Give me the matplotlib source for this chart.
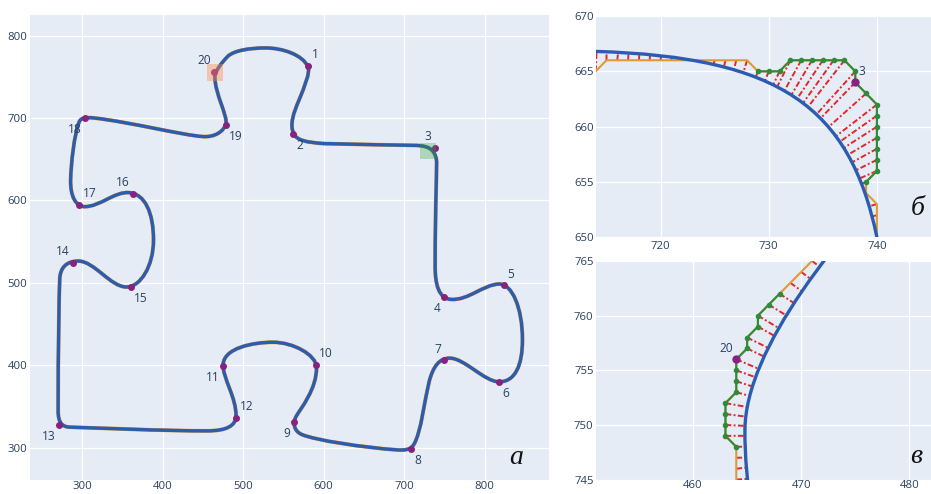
import numpy as np
import matplotlib.pyplot as plt
from matplotlib.path import Path
from matplotlib.patches import PathPatch, Rectangle

plt.rcParams['font.family'] = ['Open Sans', 'DejaVu Sans']

# fitted outline of the piece: start point, then (c1, c2, end) of each cubic segment
outline_start = (714, 666.8)
outline_segs = [
    ((731, 666.3), (737.5, 661.8), (740, 650)),
    ((741.2, 644.5), (738.5, 600), (738.5, 520)),
    ((738.5, 498), (743, 481), (758, 480)),
    ((780, 478.5), (798, 498), (818, 498.6)),
    ((834, 499), (847, 470), (847, 431)),
    ((847, 400), (838, 380), (818, 380)),
    ((800, 380), (775, 408.5), (757, 408.7)),
    ((744, 409), (736, 399), (731, 380)),
    ((726, 361), (721, 318), (712, 304)),
    ((707.5, 297), (700, 296.8), (690, 297.5)),
    ((650, 300.3), (590, 309), (573, 316)),
    ((563, 320.1), (561, 330), (566, 338.5)),
    ((571, 347), (592, 372), (591, 398)),
    ((590.2, 413), (562, 428), (537, 428)),
    ((512, 428), (476, 421), (475, 401)),
    ((474.2, 385), (492, 360), (491, 338)),
    ((490.5, 327), (480, 320.5), (455, 320.5)),
    ((400, 320.5), (320, 324), (285, 325)),
    ((275, 325.3), (270, 330), (270, 345)),
    ((270, 420), (271, 480), (272, 505)),
    ((272.6, 519), (281, 526.5), (295, 526.5)),
    ((315, 526.5), (335, 495), (355, 495)),
    ((372, 495), (388.5, 520), (388.5, 552)),
    ((388.5, 585), (378, 608), (358, 609.5)),
    ((340, 610.9), (322, 592.5), (303, 592.5)),
    ((292, 592.5), (285, 605), (285.5, 625)),
    ((286, 645), (290, 680), (296, 695)),
    ((298.4, 701), (306, 701), (315, 700)),
    ((360, 695), (425, 679), (450, 677.5)),
    ((465, 676.5), (476, 684), (478.5, 693)),
    ((481, 702), (464.7, 730), (464.8, 749.5)),
    ((464.8, 757), (473.5, 767.5), (481, 775)),
    ((489, 782), (508, 785), (528, 785)),
    ((548, 785), (574, 777), (580.5, 762)),
    ((583.5, 755), (576, 738), (569, 721)),
    ((563, 707), (557, 692), (563, 680.5)),
    ((567, 673), (578, 670.5), (600, 669)),
    ((640, 668), (690, 667.2), (714, 666.8)),
]

# key points 1..20
key_x = [581, 562, 738, 750, 824, 818, 750, 708, 563, 590,
         475, 491, 271, 288, 360, 363, 296, 303, 478, 464]
key_y = [763, 681, 664, 483, 497, 380, 406, 298, 331, 400,
         399, 336, 328, 524, 495, 608, 595, 700, 691, 756]
key_pos = ['tr', 'br', 'tl', 'bl', 'tr', 'br', 'tl', 'br', 'bl', 'tr',
           'bl', 'tr', 'bl', 'tl', 'br', 'tl', 'tr', 'bl', 'br', 'tl']

# pixel contour near point 3 (panel б)
cb_x = [713, 714, 715, 716, 717, 718, 719, 720, 721, 722, 723, 724, 725, 726,
        727, 728, 729, 730, 731, 732, 733, 734, 735, 736, 737, 738, 738, 739,
        740, 740, 740, 740, 740, 740, 740, 739, 739, 740, 740, 740, 740, 740]
cb_y = [664, 665, 666, 666, 666, 666, 666, 666, 666, 666, 666, 666, 666, 666,
        666, 666, 665, 665, 665, 666, 666, 666, 666, 666, 666, 665, 664, 663,
        662, 661, 660, 659, 658, 657, 656, 655, 654, 653, 652, 651, 650, 649]
cb_green = (16, 35)

# pixel contour near point 20 (panel в)
cv_x = [464, 464, 464, 464, 464, 463, 463, 463, 463, 464, 464, 464,
        464, 465, 465, 466, 466, 467, 468, 469, 470, 471, 472]
cv_y = [744, 745, 746, 747, 748, 749, 750, 751, 752, 753, 754, 755,
        756, 757, 758, 759, 760, 761, 762, 763, 764, 765, 766]
cv_green = (4, 18)

BLUE = '#2b5cb0'
ORANGE = '#e09a35'
GREEN = '#2e8b3a'
RED = '#e3262b'
PURPLE = '#87237f'
TXT = '#2a3f5f'

verts = [outline_start]
codes = [Path.MOVETO]
for c1, c2, p in outline_segs:
    verts += [c1, c2, p]
    codes += [Path.CURVE4] * 3
outline = Path(verts, codes)

# dense copy of the fitted curve, used to find nearest curve points
curve = np.vstack([seg(np.linspace(0, 1, 600)) for seg, _ in outline.iter_bezier()])


def style(ax, xt, yt, pad_x, pad_y):
    ax.set_facecolor('#e5ecf6')
    for s in ax.spines.values():
        s.set_visible(False)
    ax.set_xticks(xt)
    ax.set_yticks(yt)
    ax.grid(True, color='white', lw=0.9)
    ax.set_axisbelow(True)
    ax.tick_params(length=0, labelsize=8.2, labelcolor=TXT)
    ax.tick_params(axis='x', pad=pad_x)
    ax.tick_params(axis='y', pad=pad_y)


def label(ax, x, y, s, pos):
    dx = 2.5 if pos[1] == 'r' else -2.5
    dy = 3.5 if pos[0] == 't' else -3.5
    ax.annotate(s, (x, y), xytext=(dx, dy), textcoords='offset points',
                ha='left' if dx > 0 else 'right',
                va='bottom' if dy > 0 else 'top',
                fontsize=8.6, color=TXT, zorder=8)


def zoom_panel(ax, cx, cy, green, key, pos):
    for px, py in zip(cx, cy):
        d = np.hypot(curve[:, 0] - px, curve[:, 1] - py)
        j = np.argmin(d)
        ax.plot([px, curve[j, 0]], [py, curve[j, 1]], color=RED, lw=1.4,
                dashes=(3, 1.2, 1, 1.2), zorder=2)
    ax.plot(cx, cy, color=ORANGE, lw=1.5, zorder=3)
    g0, g1 = green
    ax.plot(cx[g0:g1 + 1], cy[g0:g1 + 1], color=GREEN, lw=1.5,
            marker='o', ms=3, zorder=4)
    ax.add_patch(PathPatch(outline, fc='none', ec=BLUE, lw=2.4, zorder=5))
    k = key - 1
    ax.plot(key_x[k], key_y[k], 'o', color=PURPLE, ms=5, zorder=6)
    label(ax, key_x[k], key_y[k], str(key), pos)


fig = plt.figure(figsize=(9.31, 4.94), dpi=100)

# main panel
ax = fig.add_axes([0.0322, 0.0285, 0.5575, 0.9412])
style(ax, range(300, 801, 100), range(300, 801, 100), 0.5, 2)
ax.set_xlim(235, 880)
ax.set_ylim(261, 825)
ax.add_patch(PathPatch(outline, fc='none', ec=ORANGE, lw=2.8, zorder=2))
ax.add_patch(PathPatch(outline, fc='none', ec=BLUE, lw=2.4, zorder=3))
ax.plot(key_x, key_y, 'o', color=PURPLE, ms=4, zorder=4)
for i in range(len(key_x)):
    label(ax, key_x[i], key_y[i], str(i + 1), key_pos[i])
ax.add_patch(Rectangle((720, 650), 20, 20, fc='#2ca02c', alpha=0.3, lw=0, zorder=6))
ax.add_patch(Rectangle((455, 745), 20, 20, fc='#ff8a4c', alpha=0.4, lw=0, zorder=6))
ax.text(0.937, 0.035, 'а', transform=ax.transAxes, fontsize=20, ha='center',
        va='baseline', family='Liberation Serif', style='italic', color='#111111')

# panel б: around point 3
axb = fig.add_axes([0.6398, 0.5196, 0.3602, 0.448])
style(axb, [720, 730, 740], range(650, 671, 5), 3, 1.5)
zoom_panel(axb, cb_x, cb_y, cb_green, 3, 'tr')
axb.set_xlim(714, 745)
axb.set_ylim(650, 670)
axb.text(0.962, 0.10, 'б', transform=axb.transAxes, fontsize=20, ha='center',
         va='baseline', family='Liberation Serif', style='italic', color='#111111')

# panel в: around point 20
axc = fig.add_axes([0.6398, 0.0291, 0.3602, 0.4426])
style(axc, [460, 470, 480], range(745, 766, 5), 0.5, 1.5)
zoom_panel(axc, cv_x, cv_y, cv_green, 20, 'tl')
axc.set_xlim(451, 482)
axc.set_ylim(745, 765)
axc.text(0.957, 0.075, 'в', transform=axc.transAxes, fontsize=20, ha='center',
         va='baseline', family='Liberation Serif', style='italic', color='#111111')

fig.savefig('out.png', dpi=100)
